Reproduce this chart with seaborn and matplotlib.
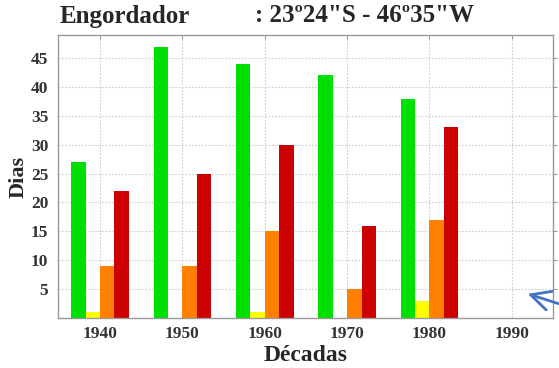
import numpy as np
import pandas as pd
import matplotlib
matplotlib.use("Agg")
import matplotlib.pyplot as plt
import seaborn as sns

# Days per decade for each class
decadas = [1940, 1950, 1960, 1970, 1980]
verde = [27, 47, 44, 42, 38]
amarelo = [1, 0, 1, 0, 3]
laranja = [9, 9, 15, 5, 17]
vermelho = [22, 25, 30, 16, 33]
tick_decadas = [1940, 1950, 1960, 1970, 1980, 1990]
tick_dias = [5, 10, 15, 20, 25, 30, 35, 40, 45]

classes = ["verde", "amarelo", "laranja", "vermelho"]
cores = ["#00E000", "#FFFF00", "#FF8000", "#CC0000"]

rows = []
for nome, vals in zip(classes, [verde, amarelo, laranja, vermelho]):
    for d, v in zip(decadas, vals):
        rows.append({"decada": d, "dias": v, "classe": nome})
df = pd.DataFrame(rows)

sns.set_style("white")
plt.rcParams["font.family"] = ["Liberation Serif", "DejaVu Serif"]

fig = plt.figure(figsize=(5.59, 3.68), dpi=100)
ax = fig.add_axes([58 / 559, 1 - 318 / 368, (553 - 58) / 559, (318 - 35) / 368])

sns.barplot(data=df, x="decada", y="dias", hue="classe", hue_order=classes,
            palette=cores, native_scale=True, width=0.7, dodge=True,
            saturation=1, legend=False, ax=ax, linewidth=0, errorbar=None)

ax.set_xlim(1934.9, 1995)
ax.set_ylim(0, 49)
ax.set_xticks(tick_decadas)
ax.set_xticklabels([str(t) for t in tick_decadas])
ax.set_yticks(tick_dias)
ax.set_yticklabels([str(t) for t in tick_dias])

ax.grid(True, color="#cccccc", linestyle=(0, (1.5, 1.5)), linewidth=0.8)
ax.set_axisbelow(True)
for s in ax.spines.values():
    s.set_color("#999999")
    s.set_linewidth(1.0)

ax.tick_params(axis="both", which="both", length=3, color="#999999",
               labelsize=12.5)
ax.tick_params(axis="x", top=True, direction="in", pad=6)
ax.tick_params(axis="y", right=True, direction="out", pad=4)
for lab in ax.get_xticklabels() + ax.get_yticklabels():
    lab.set_fontweight("bold")
    lab.set_color("#333333")

ax.set_xlabel("Décadas", fontsize=17, fontweight="bold", labelpad=2)
ax.set_ylabel("Dias", fontsize=16, fontweight="bold", labelpad=2)

fig.text(60 / 559, 1 - 16 / 368, "Engordador", fontsize=18, fontweight="bold",
         ha="left", va="center")
fig.text(255 / 559, 1 - 16 / 368, ": 23º24\"S - 46º35\"W", fontsize=18,
         fontweight="bold", ha="left", va="center")

# Blue pointer arrow at the lower right
fig.patches.append(matplotlib.patches.FancyArrowPatch(
    (566 / 559, 1 - 306 / 368), (525 / 559, 1 - 293 / 368),
    transform=fig.transFigure, arrowstyle="->,head_length=14,head_width=7",
    color="#4472C4", linewidth=2, mutation_scale=1))

fig.savefig("out.png", dpi=100)
